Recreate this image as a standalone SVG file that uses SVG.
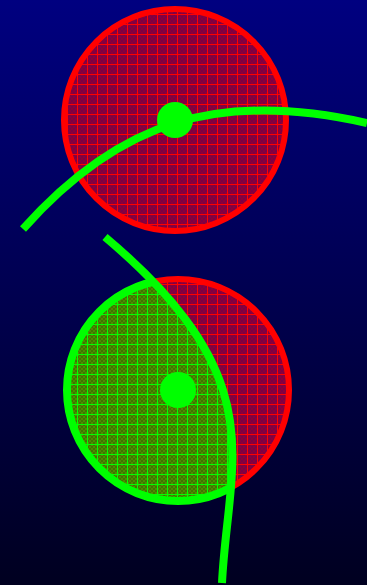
<svg xmlns="http://www.w3.org/2000/svg" width="367" height="585" viewBox="0 0 367 585">
<defs>
<linearGradient id="bg" x1="0" y1="0" x2="0" y2="1">
<stop offset="0" stop-color="#000080"/>
<stop offset="1" stop-color="#000020"/>
</linearGradient>
<pattern id="redGrid" patternUnits="userSpaceOnUse" x="7" y="4" width="10" height="10">
<rect width="10" height="10" fill="#7a0048"/>
<path d="M0,0h2v2h-2zM4,0h2v2h-2zM8,0h2v2h-2zM2,2h2v2h-2zM6,2h2v2h-2zM0,4h2v2h-2zM4,4h2v2h-2zM8,4h2v2h-2zM2,6h2v2h-2zM6,6h2v2h-2zM0,8h2v2h-2zM4,8h2v2h-2zM8,8h2v2h-2z" fill="#8c0038"/>
<path d="M0.5,0V10M0,0.5H10" stroke="#ff0000" stroke-width="1" fill="none"/>
</pattern>
<pattern id="greenGrid" patternUnits="userSpaceOnUse" x="7" y="4" width="10" height="10">
<rect width="10" height="10" fill="#3f7400"/>
<path d="M0,0h2v2h-2zM4,0h2v2h-2zM8,0h2v2h-2zM2,2h2v2h-2zM6,2h2v2h-2zM0,4h2v2h-2zM4,4h2v2h-2zM8,4h2v2h-2zM2,6h2v2h-2zM6,6h2v2h-2zM0,8h2v2h-2zM4,8h2v2h-2zM8,8h2v2h-2z" fill="#4f8a00"/>
<path d="M0.5,0V10M0,0.5H10" stroke="#00ff00" stroke-width="1" fill="none"/>
</pattern>
<clipPath id="leftOfCurve">
<path d="M105,237 C275,380 228,460 222,583 L222,600 L-10,600 L-10,200 L105,200 Z"/>
</clipPath>
<style>
.red{fill:url(#redGrid);stroke:#ff0000;stroke-width:6}
.green{fill:url(#greenGrid);stroke:#00ff00;stroke-width:8}
.curve{fill:none;stroke:#00ff00;stroke-width:8}
.dot{fill:#00ff00}
</style>
</defs>
<rect width="367" height="585" fill="url(#bg)"/>
<g id="top-circle">
<circle class="red" cx="175" cy="120" r="111"/>
</g>
<g id="bottom-circle">
<circle class="red" cx="178" cy="390" r="111"/>
<circle class="green" cx="178" cy="390" r="111" clip-path="url(#leftOfCurve)"/>
</g>
<g id="connectors">
<path class="curve" d="M23,229 C120,120 220,90 367,123"/>
<path class="curve" d="M105,237 C275,380 228,460 222,583"/>
</g>
<g id="top-dot"><circle class="dot" cx="175" cy="120" r="18"/></g>
<g id="bottom-dot"><circle class="dot" cx="178" cy="390" r="18"/></g>
</svg>
